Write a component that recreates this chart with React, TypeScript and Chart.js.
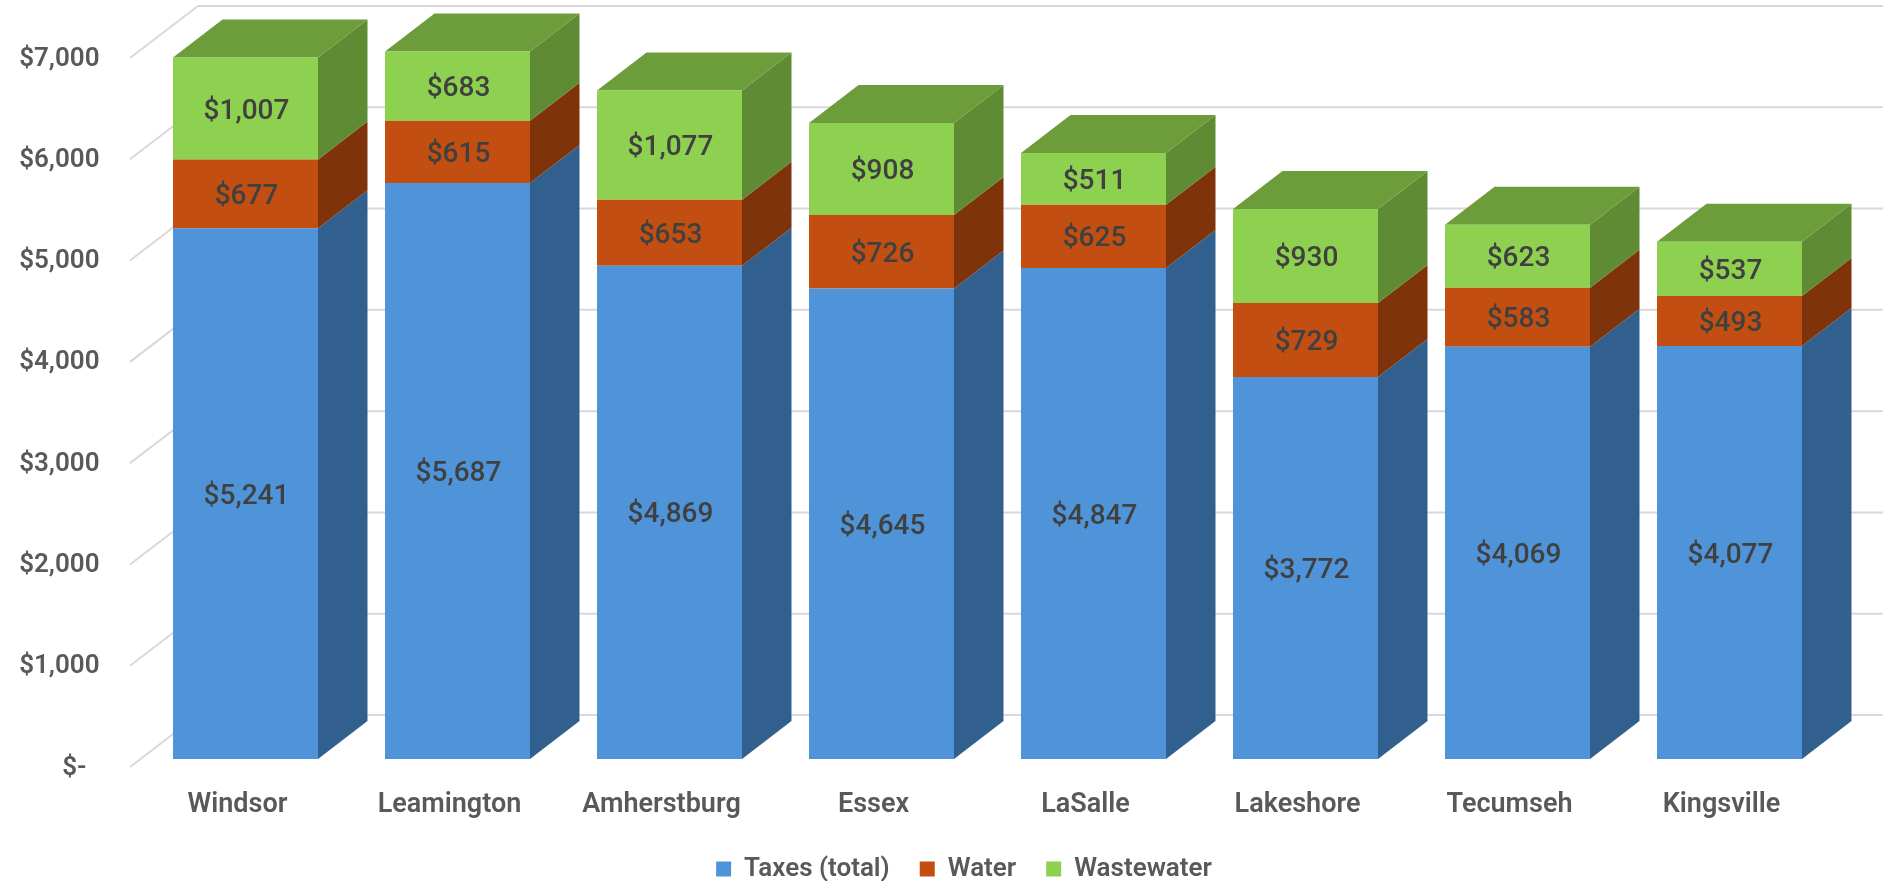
import React, { useEffect, useRef } from "react";
import { Chart, registerables } from "chart.js";

Chart.register(...registerables);

const municipalities = ["Windsor", "Leamington", "Amherstburg", "Essex", "LaSalle", "Lakeshore", "Tecumseh", "Kingsville"];
const taxes = [5241, 5687, 4869, 4645, 4847, 3772, 4069, 4077];
const water = [677, 615, 653, 726, 625, 729, 583, 493];
const wastewater = [1007, 683, 1077, 908, 511, 930, 623, 537];

const W = 1883;
const H = 881;
const DEPTH_X = 49.5;
const DEPTH_Y = 38;
const TICK_COLOR = "#595959";
const LABEL_COLOR = "#404040";
const GRID_COLOR = "#D9D9D9";
const DATA_FONT = '500 28px "Roboto"';

const FRONT = ["#4F94D9", "#C24F11", "#8ED04F"];
const SIDE = ["#32608E", "#7E330B", "#5E8B33"];
const TOP = "#6D9D3B";

const money = (v: number) => "$" + v.toLocaleString("en-US");

const wall3d = {
  id: "wall3d",
  afterLayout(chart: any) {
    const lg = chart.legend;
    const x = chart.scales.x;
    x.bottom = 842;
    if (lg) {
      const h = lg.height;
      lg.top = 826;
      lg.bottom = lg.top + h;
      lg.left = 45;
      lg.right = W;
    }
  },
  beforeDatasetsDraw(chart: any) {
    const { ctx, scales } = chart;
    const y = scales.y;
    ctx.save();
    ctx.strokeStyle = GRID_COLOR;
    ctx.lineWidth = 2;
    y.ticks.forEach((t: any) => {
      const py = y.getPixelForValue(t.value);
      ctx.beginPath();
      ctx.moveTo(130, py + 8);
      ctx.lineTo(198, py - 44);
      ctx.lineTo(W, py - 44);
      ctx.stroke();
    });
    chart.data.datasets.forEach((_: any, di: number) => {
      chart.getDatasetMeta(di).data.forEach((bar: any) => {
        const { x, y: top, base, width } = bar.getProps(["x", "y", "base", "width"], true);
        const r = x + width / 2;
        const l = x - width / 2;
        ctx.fillStyle = SIDE[di];
        ctx.beginPath();
        ctx.moveTo(r, top);
        ctx.lineTo(r + DEPTH_X, top - DEPTH_Y);
        ctx.lineTo(r + DEPTH_X, base - DEPTH_Y);
        ctx.lineTo(r, base);
        ctx.closePath();
        ctx.fill();
        if (di === chart.data.datasets.length - 1) {
          ctx.fillStyle = TOP;
          ctx.beginPath();
          ctx.moveTo(l, top);
          ctx.lineTo(l + DEPTH_X, top - DEPTH_Y);
          ctx.lineTo(r + DEPTH_X, top - DEPTH_Y);
          ctx.lineTo(r, top);
          ctx.closePath();
          ctx.fill();
        }
      });
    });
    ctx.restore();
  },
  afterDatasetsDraw(chart: any) {
    const { ctx } = chart;
    ctx.save();
    ctx.font = DATA_FONT;
    ctx.fillStyle = LABEL_COLOR;
    ctx.textAlign = "center";
    ctx.textBaseline = "middle";
    chart.data.datasets.forEach((ds: any, di: number) => {
      chart.getDatasetMeta(di).data.forEach((bar: any, i: number) => {
        const { x, y: top, base } = bar.getProps(["x", "y", "base"], true);
        ctx.fillText(money(ds.data[i]), x + 1, (top + base) / 2 + 3);
      });
    });
    ctx.restore();
  },
};

export default function App() {
  const ref = useRef<HTMLCanvasElement>(null);
  useEffect(() => {
    const chart = new Chart(ref.current!, {
      type: "bar",
      data: {
        labels: municipalities,
        datasets: [
          { label: "Taxes (total)", data: taxes, backgroundColor: FRONT[0] },
          { label: "Water", data: water, backgroundColor: FRONT[1] },
          { label: "Wastewater", data: wastewater, backgroundColor: FRONT[2] },
        ],
      },
      options: {
        responsive: false,
        animation: false,
        layout: { padding: { top: 50, right: 47.5, left: 0, bottom: 0 } },
        datasets: { bar: { barPercentage: 0.684, categoryPercentage: 1, borderWidth: 0 } },
        plugins: {
          tooltip: { enabled: false },
          legend: {
            position: "bottom",
            labels: {
              boxWidth: 15,
              boxHeight: 15,
              padding: 30,
              color: TICK_COLOR,
              font: { family: "Roboto", size: 26, weight: "600" },
            },
          },
        },
        scales: {
          x: {
            stacked: true,
            grid: { display: false, drawTicks: false },
            border: { display: false },
            afterFit: (s: any) => {
              s.height = 56;
            },
            ticks: {
              color: TICK_COLOR,
              font: { family: "Roboto", size: 27, weight: "600" },
              padding: 30,
              labelOffset: -8,
              maxRotation: 0,
              autoSkip: false,
            },
          },
          y: {
            stacked: true,
            min: 0,
            max: 7000,
            grid: { display: false, drawTicks: false },
            border: { display: false },
            afterFit: (s: any) => {
              s.width = 139.5;
              s.paddingTop = 0;
              s.paddingBottom = 0;
            },
            ticks: {
              stepSize: 1000,
              color: TICK_COLOR,
              font: { family: "Roboto", size: 26, weight: "600" },
              padding: 40,
              labelOffset: 9,
              callback: (v: any) => (v === 0 ? "$-  " : money(Number(v))),
            },
          },
        },
      },
      plugins: [wall3d],
    } as any);
    return () => chart.destroy();
  }, []);
  return (
    <canvas
      ref={ref}
      width={W}
      height={H}
      style={{ position: "absolute", left: 0, top: 0, width: W, height: H, display: "block", background: "#fff" }}
    />
  );
}
